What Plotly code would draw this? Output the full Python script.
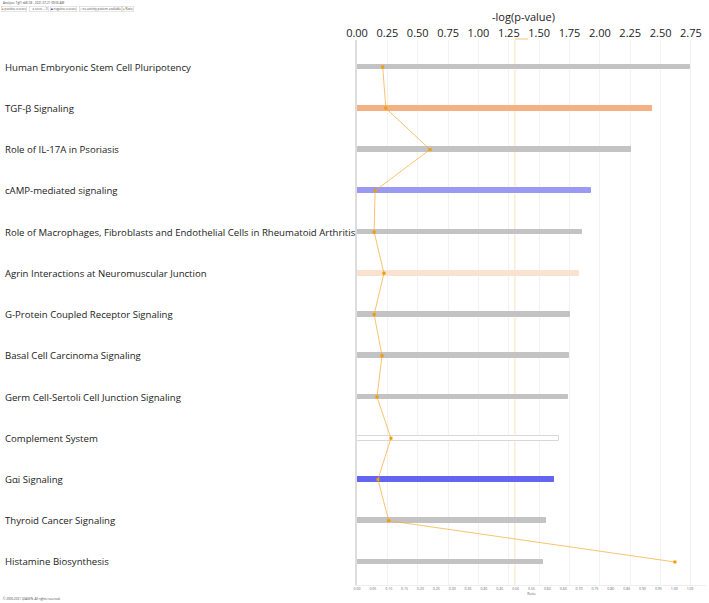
import plotly.graph_objects as go

categories = [
    "Human Embryonic Stem Cell Pluripotency",
    "TGF-β Signaling",
    "Role of IL-17A in Psoriasis",
    "cAMP-mediated signaling",
    "Role of Macrophages, Fibroblasts and Endothelial Cells in Rheumatoid Arthritis",
    "Agrin Interactions at Neuromuscular Junction",
    "G-Protein Coupled Receptor Signaling",
    "Basal Cell Carcinoma Signaling",
    "Germ Cell-Sertoli Cell Junction Signaling",
    "Complement System",
    "Gαi Signaling",
    "Thyroid Cancer Signaling",
    "Histamine Biosynthesis",
]
neg_log_p = [2.74, 2.43, 2.26, 1.93, 1.85, 1.83, 1.75, 1.745, 1.74, 1.665, 1.625, 1.555, 1.535]
ratio = [0.081, 0.091, 0.230, 0.057, 0.054, 0.085, 0.054, 0.079, 0.063, 0.107, 0.066, 0.100, 1.002]
z_status = ["none", "pos_strong", "none", "neg_weak", "none", "pos_weak", "none", "none", "none",
            "zero", "neg_strong", "none", "none"]
threshold = 1.3
top_ticks = [0.0, 0.25, 0.5, 0.75, 1.0, 1.25, 1.5, 1.75, 2.0, 2.25, 2.5, 2.75]
ratio_ticks = [round(i * 0.05, 2) for i in range(23)]
header = "Analysis: Tgf1 ddE.08 - 2021-07-21 09:06 AM"
legend_labels = ["positive z-score", "z-score = 0", "negative z-score", "no activity pattern available", "Ratio"]
copyright_text = "© 2000-2021 QIAGEN. All rights reserved."

status_fill = {
    "none": "#c3c3c3",
    "pos_strong": "#f4b183",
    "pos_weak": "#f9e3d0",
    "neg_weak": "#9a9af2",
    "neg_strong": "#6464f2",
    "zero": "#ffffff",
}
status_line = {k: ("#d8d8d8" if k == "zero" else v) for k, v in status_fill.items()}

W, H = 709, 603
L, R, T, B = 357, 3, 40, 18
PW, PH = W - L - R, H - T - B


def px(xp):
    return (xp - L) / PW


def py(yp):
    return 1 + (T - yp) / PH


LABEL_FONT = "Open Sans"

fig = go.Figure()
fig.add_trace(go.Bar(
    x=neg_log_p, y=categories, orientation="h", width=0.12,
    marker=dict(color=[status_fill[s] for s in z_status],
                line=dict(color=[status_line[s] for s in z_status], width=1)),
    xaxis="x", yaxis="y", showlegend=False, hoverinfo="x+y",
))
fig.add_trace(go.Scatter(
    x=ratio, y=categories, mode="lines+markers",
    line=dict(color="rgba(245,170,50,0.7)", width=1),
    marker=dict(symbol="square", size=3, color="#f59a00"),
    xaxis="x2", yaxis="y", showlegend=False,
))

fig.add_shape(type="line", xref="x", yref="paper", x0=threshold, x1=threshold, y0=0, y1=1,
              line=dict(color="rgba(245,190,110,0.45)", width=1), layer="below")
fig.add_shape(type="line", xref="x", yref="paper", x0=threshold, x1=threshold + 0.11,
              y0=py(39), y1=py(39), line=dict(color="rgba(245,190,110,0.9)", width=1))

fig.update_layout(
    width=W, height=H,
    margin=dict(l=L, r=R, t=T, b=B),
    paper_bgcolor="white", plot_bgcolor="white",
    font=dict(family=LABEL_FONT, color="#222"),
    bargap=0,
    xaxis=dict(side="top", range=[0, 2.874], tickvals=top_ticks,
               ticktext=[f"{v:.2f}" for v in top_ticks],
               tickfont=dict(size=11, family=LABEL_FONT), showgrid=True, gridcolor="#f2f2f2",
               zeroline=False, showline=False, ticks="", automargin=False),
    xaxis2=dict(overlaying="x", side="bottom", range=[0, 1.1], tickvals=ratio_ticks,
                ticktext=[f"{v:.2f}" for v in ratio_ticks], tickfont=dict(size=3.5, color="#666"),
                showgrid=False, zeroline=False, showline=True, linecolor="#eeeeee", ticks="",
                automargin=False,
                title=dict(text="Ratio", font=dict(size=3.5, color="#666"), standoff=1)),
    yaxis=dict(categoryorder="array", categoryarray=categories[::-1], range=[-0.558, 12.655],
               showticklabels=False, showline=True, linecolor="#dddddd", linewidth=2,
               showgrid=False, ticks="", automargin=False),
)

fig.add_annotation(xref="x", yref="paper", x=1.375, y=py(25.5), xanchor="center", yanchor="bottom",
                   text="-log(p-value)", showarrow=False, borderpad=0,
                   font=dict(size=11, family=LABEL_FONT, color="#222"))

for c in categories:
    fig.add_annotation(x=px(3), xref="paper", xanchor="left", y=c, yref="y",
                       text=c, showarrow=False, font=dict(size=9.6, color="#222", family=LABEL_FONT))

fig.add_annotation(xref="paper", yref="paper", x=px(1), y=py(3), xanchor="left", yanchor="middle",
                   text=header, showarrow=False, font=dict(size=3, color="#444"))

legend_colors = ["#f08a2c", "#ffffff", "#2020e0", "#dddddd", "#f5a623"]
legend_x = [1, 29, 50, 79, 122]
for label, col, xs in zip(legend_labels, legend_colors, legend_x):
    fig.add_annotation(xref="paper", yref="paper", x=px(xs), y=py(9),
                       xanchor="left", yanchor="middle", showarrow=False,
                       text=f"<span style='color:{col}'>■</span> {label}",
                       font=dict(size=3, color="#444"), bordercolor="#cccccc", borderwidth=0.5, borderpad=0.5)

fig.add_annotation(xref="paper", yref="paper", x=px(1), y=py(598), xanchor="left", yanchor="middle",
                   text=copyright_text, showarrow=False, font=dict(size=3, color="#444"))

fig.write_html("out.html", config={"displayModeBar": False},
               post_script="document.body.style.margin='0px';")
